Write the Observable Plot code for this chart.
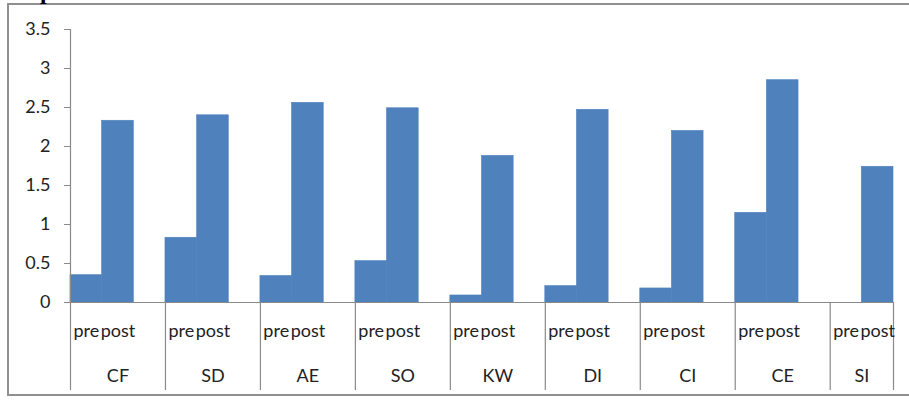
<!DOCTYPE html>
<html>
<head>
<meta charset="utf-8">
<script src="https://cdn.jsdelivr.net/npm/d3@7"></script>
<script src="https://cdn.jsdelivr.net/npm/@observablehq/plot@0.6"></script>
<style>
  html, body { margin: 0; padding: 0; overflow: hidden; background: #fff; width: 909px; height: 400px; }
  #wrap { position: relative; width: 909px; height: 400px; }
  #chart { position: absolute; left: 0; top: 0; }
  #border { position: absolute; left: 7px; top: 3px; width: 1000px; height: 393px; border: 2px solid #8f8f8f; box-sizing: border-box; }
  #title { position: absolute; left: 40px; top: -21px; font: bold 24px/24px "Liberation Serif", serif; color: #000; z-index: 5; }
</style>
</head>
<body>
<div id="wrap">
  <div id="border"></div>
  <div id="chart"></div>
  <div id="title">p</div>
</div>
<script>
const groups = ["CF", "SD", "AE", "SO", "KW", "DI", "CI", "CE", "SI"];
const preValues = [0.35, 0.83, 0.34, 0.53, 0.09, 0.21, 0.18, 1.15, 0];
const postValues = [2.33, 2.40, 2.56, 2.49, 1.88, 2.47, 2.20, 2.85, 1.74];
const phaseLabels = ["pre", "post"];
const yTicks = [0, 0.5, 1, 1.5, 2, 2.5, 3, 3.5];

// Build slot table: each group has pre, post, then an empty slot (except the last)
const slotsPerGroup = 3;
const nSlots = groups.length * slotsPerGroup - 1;
const bars = [];
groups.forEach((g, i) => {
  bars.push({group: g, phase: phaseLabels[0], slot: i * slotsPerGroup, value: preValues[i]});
  bars.push({group: g, phase: phaseLabels[1], slot: i * slotsPerGroup + 1, value: postValues[i]});
});
const groupInfo = groups.map((g, i) => {
  const start = i * slotsPerGroup;
  const end = Math.min(start + slotsPerGroup, nSlots);
  return {group: g, start, end, mid: (start + end) / 2};
});
const boundaries = [...groupInfo.map(d => d.start), nSlots];

const FONT = "Lato, 'Open Sans', sans-serif";
const AXIS = "#8a8a8a";
const TEXT = "#222";

const chart = Plot.plot({
  width: 909,
  height: 400,
  marginLeft: 70,
  marginRight: 16,
  marginTop: 29,
  marginBottom: 98,
  style: {fontFamily: FONT, fontSize: "18px", background: "transparent", color: TEXT},
  x: {type: "linear", domain: [0, nSlots], axis: null},
  y: {domain: [0, 3.5], axis: null},
  marks: [
    Plot.rectY(bars, {x1: "slot", x2: d => d.slot + 1, y: "value", fill: "#4F81BD", stroke: "#4F81BD", strokeWidth: 0.6}),
    Plot.axisY({ticks: yTicks, tickSize: 6, tickPadding: 14, stroke: AXIS, fill: TEXT, fontSize: 18, label: null, tickFormat: d => String(d)}),
    Plot.ruleX([0], {stroke: AXIS, strokeWidth: 1.2}),
    Plot.ruleY([0], {stroke: AXIS, strokeWidth: 1.2}),
    Plot.axisX({ticks: boundaries, tickSize: 88, tickFormat: () => "", label: null, stroke: AXIS, strokeWidth: 1.2}),
    Plot.text(bars, {x: d => d.slot + 0.5, y: () => 0, text: "phase", dy: 29, fill: TEXT, fontSize: 18}),
    Plot.text(groupInfo, {x: "mid", y: () => 0, text: "group", dy: 74, fill: TEXT, fontSize: 18})
  ]
});
document.getElementById("chart").appendChild(chart);
</script>
</body>
</html>
